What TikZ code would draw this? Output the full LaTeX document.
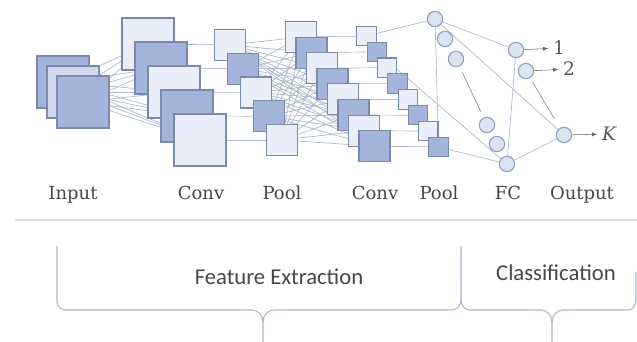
\documentclass[tikz,border=0pt]{standalone}
\usepackage{fontspec}
\newfontfamily\bracefont{Carlito}
\newfontfamily\layerfont{DejaVu Serif}
\definecolor{mapdark}{HTML}{A3B5DA}
\definecolor{maplight}{HTML}{E9EEF8}
\definecolor{mapedge}{HTML}{7A8AAB}
\definecolor{linkgray}{HTML}{ABB7CB}
\definecolor{unitfill}{HTML}{DCE4F2}
\definecolor{unitedge}{HTML}{8E9EC0}
\definecolor{bracegray}{HTML}{A9B7CB}
\pgfdeclarelayer{bg}
\pgfsetlayers{bg,main}

\begin{document}
\begin{tikzpicture}[x=0.75pt, y=-0.75pt,
	big/.style={draw=mapedge, line width=0.8pt, minimum size=39pt, inner sep=0pt},
	mid/.style={draw=mapedge, line width=0.8pt, minimum size=23.25pt, inner sep=0pt},
	small/.style={draw=mapedge, line width=0.8pt, minimum size=14.5pt, inner sep=0pt},
	dk/.style={fill=mapdark}, lt/.style={fill=maplight},
	unit/.style={circle, draw=unitedge, fill=unitfill, line width=0.8pt, minimum size=11.5pt, inner sep=0pt},
	link/.style={draw=linkgray, line width=0.5pt},
	layer/.style={anchor=base, font=\layerfont\fontsize{13.5}{16}\selectfont, text=black!72}]
				\useasboundingbox (0,0) rectangle (637,342);
				% input maps
				\node[big, dk] (in1) at (63, 82) {};
				\node[big, fill=mapdark!50] (in2) at (73, 92) {};
				\node[big, dk] (in3) at (83, 102) {};
				% first convolution and pooling
				\foreach \n/\c [count=\i from 0] in {a/lt,b/dk,c/lt,d/dk,e/lt}
					\node[big, \c] (c\n) at ({148+13*\i}, {44+24*\i}) {};
				\foreach \n/\c [count=\i from 0] in {a/lt,b/dk,c/lt,d/dk,e/lt}
					\node[mid, \c] (p\n) at ({230+13*\i}, {45+23.75*\i}) {};
				% second convolution and pooling
				\foreach \n/\c [count=\i from 0] in {a/lt,b/dk,c/lt,d/dk,e/lt,f/dk,g/lt,h/dk}
					\node[mid, \c] (q\n) at ({301+10.5*\i}, {37+15.6*\i}) {};
				\foreach \n/\c [count=\i from 0] in {a/lt,b/dk,c/lt,d/dk,e/lt,f/dk,g/lt,h/dk}
					\node[small, \c] (r\n) at ({366.5+10.3*\i}, {36+15.85*\i}) {};
				% fully connected units
				\node[unit] (f1) at (435, 19) {};
				\node[unit] (f2) at (445, 39) {};
				\node[unit] (f3) at (456, 59) {};
				\node[unit] (f4) at (487, 125) {};
				\node[unit] (f5) at (497, 144) {};
				\node[unit] (f6) at (507, 164) {};
				% output units
				\node[unit] (o1) at (516, 50) {};
				\node[unit] (o2) at (526, 71) {};
				\node[unit] (oK) at (564, 135) {};
				\node[font=\layerfont\fontsize{14}{16}\selectfont, text=black!65] (y1) at (559, 48) {1};
				\node[font=\layerfont\fontsize{14}{16}\selectfont, text=black!65] (y2) at (569, 69) {2};
				\node[font=\layerfont\itshape\fontsize{14}{16}\selectfont, text=black!65] (yK) at (609, 134) {K};
				\draw[->, >=latex, black!60] (o1) -- (y1);
				\draw[->, >=latex, black!60] (o2) -- (y2);
				\draw[->, >=latex, black!60] (oK) -- (yK);
				\begin{pgfonlayer}{bg}
					\foreach \s in {1,2,3}
						\foreach \t in {a,...,e}
							\draw[link] (in\s) -- (c\t);
					\foreach \t in {a,...,e}
						\draw[link] (c\t) -- (p\t);
					\foreach \s in {a,...,e}
						\foreach \t in {a,...,h}
							\draw[link] (p\s) -- (q\t);
					\foreach \t in {a,...,h}
						\draw[link] (q\t) -- (r\t);
					\draw[link] (ra) -- (f1);
					\draw[link] (rb) -- (f6);
					\draw[link] (f1) -- (rh);
					\draw[link] (rh) -- (f6);
					\draw[link] (f1) -- (o1);
					\draw[link] (f1) -- (oK);
					\draw[link] (f6) -- (o1);
					\draw[link] (f6) -- (oK);
				\end{pgfonlayer}
				\draw[link, draw=black!45, shorten <=5pt, shorten >=5pt] (f3) -- (f4);
				\draw[link, draw=black!45, shorten <=4pt, shorten >=8pt] (o2) -- (oK);
				% layer names
				\node[layer] (tin) at (73, 200) {Input};
				\node[layer] (tc1) at (201, 200) {Conv};
				\node[layer] (tp1) at (282, 200) {Pool};
				\node[layer] (tc2) at (375, 200) {Conv};
				\node[layer] (tp2) at (439, 200) {Pool};
				\node[layer] (tfc) at (508, 200) {FC};
				\node[layer] (tout) at (582, 200) {Output};
				\draw[black!12, line width=1pt] (15, 220) -- (637, 220);
				% braces
				\draw[bracegray, line width=0.8pt] (57, 246) -- (57, 302) to[out=270, in=180] (66, 310) -- (252, 310) to[out=0, in=90] (263, 322) -- (263, 342);
				\draw[bracegray, line width=0.8pt] (263, 322) to[out=90, in=180] (274, 310) -- (452, 310) to[out=0, in=270] (461, 300) -- (461, 246);
				\draw[bracegray, line width=0.8pt] (461, 300) to[out=270, in=180] (470, 310) -- (541, 310) to[out=0, in=90] (552, 322) -- (552, 342);
				\draw[bracegray, line width=0.8pt] (552, 322) to[out=90, in=180] (563, 310) -- (628, 310) to[out=0, in=270] (636, 300) -- (636, 272);
				\node[font=\bracefont\fontsize{17}{20}\selectfont, text=black!72] (fe) at (279, 277) {Feature Extraction};
				\node[font=\bracefont\fontsize{17}{20}\selectfont, text=black!72] (cl) at (556, 273) {Classification};
			\end{tikzpicture}
\end{document}
